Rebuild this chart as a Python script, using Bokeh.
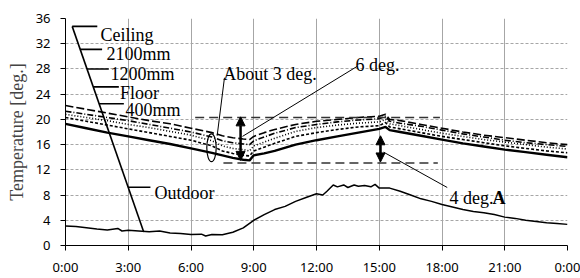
from bokeh.plotting import figure
from bokeh.models import Range1d, FixedTicker, Arrow, NormalHead
from bokeh.embed import file_html
from bokeh.resources import INLINE
from bokeh.core.properties import value

# ---------------- data ----------------
hours = [0, 1, 2, 3, 4, 5, 6, 7, 7.5, 8, 8.5, 8.8, 9, 9.5, 10, 11, 12, 13, 14, 15,
         15.3, 15.5, 16, 17, 18, 19, 20, 21, 22, 23, 24]
ceiling = [22.2, 21.6, 21.0, 20.4, 19.8, 19.3, 18.6, 17.9, 17.4, 17.1, 16.9, 16.8, 17.3, 17.9,
           18.4, 19.2, 19.7, 20.0, 20.3, 20.5, 20.8, 20.0, 19.8, 19.2, 18.6, 18.0, 17.5, 17.1,
           16.7, 16.3, 16.0]
mm2100 = [21.3, 20.8, 20.3, 19.8, 19.2, 18.6, 18.0, 17.2, 16.6, 16.3, 16.1, 16.0, 16.6, 17.2,
          17.8, 18.7, 19.2, 19.6, 19.9, 20.1, 20.5, 19.7, 19.4, 18.9, 18.3, 17.7, 17.2, 16.7,
          16.3, 16.0, 15.7]
mm1200 = [20.8, 20.3, 19.8, 19.2, 18.7, 18.1, 17.5, 16.6, 15.8, 15.4, 15.2, 15.0, 15.8, 16.4,
          17.0, 18.1, 18.7, 19.1, 19.4, 19.6, 20.0, 19.3, 19.0, 18.4, 17.8, 17.3, 16.8, 16.4,
          16.0, 15.6, 15.3]
mm400 = [20.3, 19.7, 19.1, 18.5, 17.9, 17.3, 16.7, 15.8, 15.0, 14.6, 14.3, 14.2, 15.0, 15.6,
         16.2, 17.3, 17.9, 18.4, 18.8, 19.0, 19.5, 18.8, 18.5, 17.9, 17.3, 16.8, 16.3, 15.8,
         15.4, 15.0, 14.7]
floor = [19.3, 18.6, 17.9, 17.3, 16.7, 16.1, 15.4, 14.7, 14.3, 13.9, 13.6, 13.5, 14.3, 14.6,
         15.0, 16.0, 16.7, 17.3, 17.9, 18.5, 18.8, 18.3, 18.0, 17.4, 16.8, 16.2, 15.7, 15.2,
         14.8, 14.4, 14.0]

out_hours = [0, 0.5, 1, 1.5, 2, 2.5, 2.7, 3, 3.5, 4, 4.5, 5, 5.5, 6, 6.5, 6.7, 7, 7.5, 8, 8.5,
             9, 9.5, 10, 10.5, 11, 11.5, 12, 12.3, 12.5, 12.8, 13, 13.3, 13.5, 13.8, 14, 14.3,
             14.6, 14.8, 15, 15.5, 16, 16.5, 17, 17.5, 18, 18.5, 19, 19.5, 20, 20.5, 21, 21.5,
             22, 22.5, 23, 23.5, 24]
outdoor = [3.1, 3.0, 2.8, 2.6, 2.45, 2.7, 2.3, 2.4, 2.3, 2.2, 2.3, 2.0, 1.9, 1.75, 1.8, 1.5,
           1.75, 1.7, 2.1, 2.8, 4.0, 4.9, 5.7, 6.2, 7.0, 7.6, 8.2, 8.0, 8.6, 9.6, 9.3, 9.6, 9.2,
           9.6, 9.4, 9.5, 9.3, 9.7, 9.1, 9.1, 8.6, 8.0, 7.4, 7.0, 6.5, 6.1, 5.7, 5.4, 5.2, 4.9,
           4.5, 4.3, 4.0, 3.8, 3.6, 3.5, 3.35]

x_ticks = [0, 3, 6, 9, 12, 15, 18, 21, 24]
x_tick_labels = ["0:00", "3:00", "6:00", "9:00", "12:00", "15:00", "18:00", "21:00", "0:00"]
y_ticks = [0, 4, 8, 12, 16, 20, 24, 28, 32, 36]
y_label = "Temperature [deg.]"

series_names = ["Ceiling", "2100mm", "1200mm", "Floor", "400mm", "Outdoor"]

# ---------------- figure ----------------
p = figure(width=580, height=278, output_backend="svg", toolbar_location=None,
           x_range=Range1d(0, 24), y_range=Range1d(0, 36),
           min_border_left=65, min_border_right=13, min_border_top=18, min_border_bottom=30)
p.outline_line_color = None
p.background_fill_color = "white"

serif = "Liberation Serif"
tickfont = "Noto Sans"

p.xaxis.ticker = FixedTicker(ticks=x_ticks)
p.xaxis.major_label_overrides = {t: l for t, l in zip(x_ticks, x_tick_labels)}
p.yaxis.ticker = FixedTicker(ticks=y_ticks)
for ax in (p.xaxis[0], p.yaxis[0]):
    ax.axis_line_color = "black"
    ax.major_tick_line_color = "black"
    ax.major_tick_in = 0
    ax.major_tick_out = 5
    ax.minor_tick_line_color = None
    ax.major_label_text_font = tickfont
    ax.major_label_text_font_size = "13px"
    ax.major_label_text_color = "black"
p.xaxis.major_label_standoff = 7
p.yaxis.major_label_standoff = 10
p.yaxis.axis_label = y_label
p.yaxis.axis_label_text_font = serif
p.yaxis.axis_label_text_font_size = "18px"
p.yaxis.axis_label_text_font_style = "normal"
p.yaxis.axis_label_standoff = 6

p.xgrid.grid_line_color = "#a6a6a6"
p.xgrid.grid_line_width = 1
p.ygrid.grid_line_color = "#a6a6a6"
p.ygrid.grid_line_dash = "3 2"

# ---------------- series ----------------
p.line(hours, ceiling, line_color="black", line_width=1.6, line_dash="8 3")
p.line(hours, mm2100, line_color="black", line_width=1.6, line_dash="6 2 1 2")
p.line(hours, mm1200, line_color="black", line_width=1.6, line_dash="1 2")
p.line(hours, mm400, line_color="black", line_width=1.6, line_dash="3 2")
p.line(hours, floor, line_color="black", line_width=2.4)
p.line(out_hours, outdoor, line_color="black", line_width=1.5)

# ---------------- annotations ----------------
# reference dashed lines
p.line([6.2, 17.9], [20.3, 20.3], line_color="#333333", line_width=1.5, line_dash="9 5")
p.line([7.55, 17.8], [13.1, 13.1], line_color="#333333", line_width=1.5, line_dash="9 5")

# double arrows
for xa, y0, y1 in [(8.37, 13.5, 20.4), (15.06, 13.25, 17.4)]:
    p.add_layout(Arrow(x_start=xa, y_start=y0, x_end=xa, y_end=y1, line_width=2.5,
                       line_color="black",
                       start=NormalHead(size=9, fill_color="black", line_color="black"),
                       end=NormalHead(size=9, fill_color="black", line_color="black")))

# ellipse
p.ellipse(x=[6.98], y=[15.5], width=[0.45], height=[4.4], fill_color=None,
          line_color="black", line_width=1.2)

# leader lines
leaders = [
    ([7.60, 7.25], [26.6, 17.4]),
    ([13.94, 8.46], [28.4, 17.3]),
    ([15.21, 18.25], [14.8, 9.2]),
]
for xs, ys in leaders:
    p.line(xs, ys, line_color="black", line_width=1)

# legend callout
p.line([0.32, 3.74], [34.75, 2.14], line_color="black", line_width=1.6)
ticks_lbl = [
    ([0.32, 1.52], 34.75),
    ([0.70, 1.75], 31.1),
    ([1.03, 2.07], 28.0),
    ([1.33, 2.55], 25.15),
    ([1.61, 2.79], 22.49),
    ([3.00, 4.06], 9.23),
]
for xs, yy in ticks_lbl:
    p.line(xs, [yy, yy], line_color="black", line_width=1.6)

lbl_x = [1.67, 1.96, 2.15, 2.60, 2.87, 4.25]
lbl_y = [33.45, 30.32, 27.23, 24.21, 21.44, 8.40]
p.text(x=lbl_x, y=lbl_y, text=series_names, text_font=value(serif),
       text_font_size=value("18px"), text_baseline="alphabetic", text_align="left",
       text_color="black")

p.text(x=[7.54, 13.86, 18.36], y=[27.19, 28.64, 7.51],
       text=["About 3 deg.", "6 deg.", "4 deg."], text_font=value(serif),
       text_font_size=value("18px"), text_baseline="alphabetic", text_align="left",
       text_color="black")
p.text(x=[20.41], y=[7.51], text=["A"], text_font=value(serif),
       text_font_size=value("18px"), text_font_style="bold",
       text_baseline="alphabetic", text_align="left", text_color="black")

open("out.html", "w").write(file_html(p, INLINE))
